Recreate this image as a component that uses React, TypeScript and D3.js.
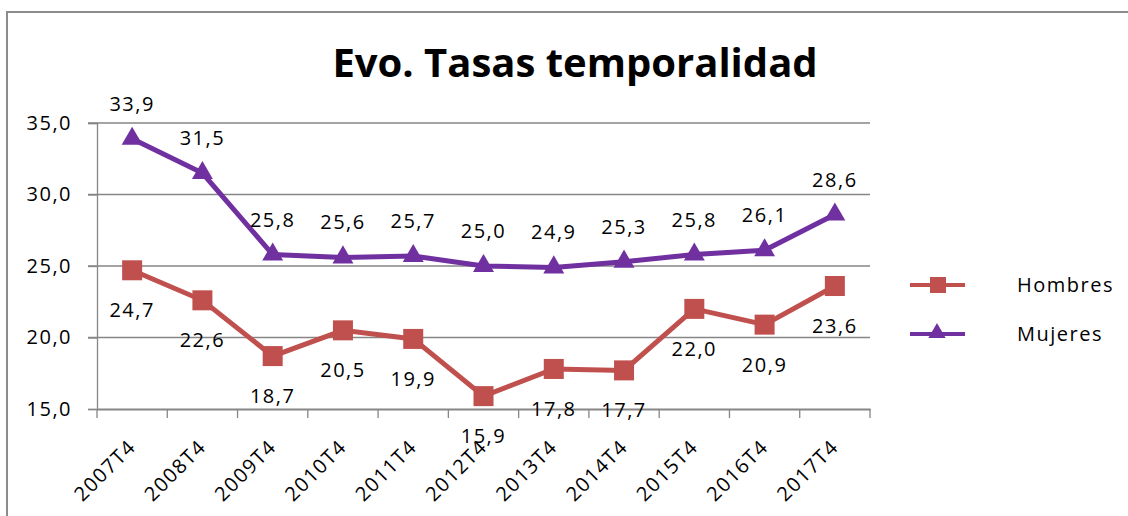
import React, { useEffect, useRef } from 'react';
import * as d3 from 'd3';

const categories = ['2007T4', '2008T4', '2009T4', '2010T4', '2011T4', '2012T4', '2013T4', '2014T4', '2015T4', '2016T4', '2017T4'];
const hombres = [24.7, 22.6, 18.7, 20.5, 19.9, 15.9, 17.8, 17.7, 22.0, 20.9, 23.6];
const mujeres = [33.9, 31.5, 25.8, 25.6, 25.7, 25.0, 24.9, 25.3, 25.8, 26.1, 28.6];
const yTicks = [15, 20, 25, 30, 35];

const RED = '#C0504D';
const PURPLE = '#7030A0';
const FONT = "'Open Sans', 'Noto Sans', sans-serif";

function App() {
  const svgRef = useRef<SVGSVGElement>(null);

  useEffect(() => {
    const width = 1128;
    const height = 516;
    const margin = { top: 123, left: 97, right: 258, bottom: 107 };

    const svg = d3.select(svgRef.current).attr('width', width).attr('height', height);
    svg.selectAll('*').remove();

    // outer frame (cut by window on right/bottom)
    svg.append('rect')
      .attr('x', 7).attr('y', 12)
      .attr('width', width + 20).attr('height', height + 20)
      .attr('fill', '#fff').attr('stroke', '#8c8c8c').attr('stroke-width', 2);

    const x = d3.scaleBand<string>()
      .domain(categories)
      .range([margin.left, width - margin.right]);

    const y = d3.scaleLinear()
      .domain([15, 35])
      .range([height - margin.bottom, margin.top]);

    const fmt = (v: number) => d3.format('.1f')(v).replace('.', ',');
    const cx = (c: string) => (x(c) as number) + x.bandwidth() / 2;

    // gridlines
    svg.append('g')
      .selectAll('line')
      .data(yTicks.filter(t => t !== 15))
      .join('line')
      .attr('x1', margin.left - 9).attr('x2', width - margin.right)
      .attr('y1', d => y(d)).attr('y2', d => y(d))
      .attr('stroke', '#868686').attr('stroke-width', 1.3);

    // y axis
    const yAxis = svg.append('g')
      .attr('transform', `translate(${margin.left},0)`)
      .call(d3.axisLeft(y).tickValues(yTicks).tickSize(9).tickFormat(d => fmt(+d)));
    yAxis.select('.domain').attr('stroke', '#868686').attr('stroke-width', 1.3);
    yAxis.selectAll('.tick line').attr('stroke', '#868686').attr('stroke-width', 1.3);
    yAxis.selectAll('.tick text')
      .attr('x', -25)
      .attr('font-family', FONT).attr('font-size', 20).attr('letter-spacing', 1.5)
      .attr('fill', '#000');

    // x axis
    const xAxis = svg.append('g')
      .attr('transform', `translate(0,${y(15)})`)
      .call(d3.axisBottom(x).tickSize(0));
    xAxis.select('.domain').attr('stroke', '#868686').attr('stroke-width', 2);
    xAxis.selectAll('.tick text')
      .attr('font-family', FONT).attr('font-size', 20).attr('letter-spacing', 1.5)
      .attr('fill', '#000')
      .attr('text-anchor', 'end')
      .attr('dy', 0).attr('y', 0)
      .attr('transform', 'translate(5,39) rotate(-45)');

    // category boundary ticks
    const bounds = [...categories.map(c => x(c) as number), width - margin.right];
    svg.append('g')
      .selectAll('line')
      .data(bounds)
      .join('line')
      .attr('x1', d => d).attr('x2', d => d)
      .attr('y1', y(15)).attr('y2', y(15) + 9)
      .attr('stroke', '#868686').attr('stroke-width', 1.3);

    const line = d3.line<number>()
      .x((_, i) => cx(categories[i]))
      .y(d => y(d));

    // Hombres
    svg.append('path')
      .datum(hombres)
      .attr('d', line)
      .attr('fill', 'none').attr('stroke', RED).attr('stroke-width', 5);
    svg.append('g')
      .selectAll('rect')
      .data(hombres)
      .join('rect')
      .attr('x', (_, i) => cx(categories[i]) - 10)
      .attr('y', d => y(d) - 10)
      .attr('width', 20).attr('height', 20)
      .attr('fill', RED);

    // Mujeres
    svg.append('path')
      .datum(mujeres)
      .attr('d', line)
      .attr('fill', 'none').attr('stroke', PURPLE).attr('stroke-width', 5);
    const tri = d3.symbol().type(d3.symbolTriangle).size(190);
    svg.append('g')
      .selectAll('path')
      .data(mujeres)
      .join('path')
      .attr('d', tri)
      .attr('transform', (d, i) => `translate(${cx(categories[i])},${y(d)})`)
      .attr('fill', PURPLE);

    // data labels
    svg.append('g')
      .selectAll('text')
      .data(mujeres)
      .join('text')
      .attr('x', (_, i) => cx(categories[i]))
      .attr('y', d => y(d) - 28)
      .attr('text-anchor', 'middle')
      .attr('font-family', FONT).attr('font-size', 20).attr('letter-spacing', 1.5)
      .text(d => fmt(d));
    svg.append('g')
      .selectAll('text')
      .data(hombres)
      .join('text')
      .attr('x', (_, i) => cx(categories[i]))
      .attr('y', d => y(d) + 47)
      .attr('text-anchor', 'middle')
      .attr('font-family', FONT).attr('font-size', 20).attr('letter-spacing', 1.5)
      .text(d => fmt(d));

    // title
    svg.append('text')
      .attr('x', 575).attr('y', 77)
      .attr('text-anchor', 'middle')
      .attr('font-family', FONT).attr('font-size', 40).attr('font-weight', 700)
      .text('Evo. Tasas temporalidad');

    // legend
    const legend = [
      { name: 'Hombres', color: RED, shape: 'square', y: 285 },
      { name: 'Mujeres', color: PURPLE, shape: 'triangle', y: 334 },
    ];
    const lg = svg.append('g');
    legend.forEach(l => {
      lg.append('line')
        .attr('x1', 910).attr('x2', 965)
        .attr('y1', l.y).attr('y2', l.y)
        .attr('stroke', l.color).attr('stroke-width', 4);
      if (l.shape === 'square') {
        lg.append('rect')
          .attr('x', 930).attr('y', l.y - 8)
          .attr('width', 16).attr('height', 16)
          .attr('fill', l.color);
      } else {
        lg.append('path')
          .attr('d', d3.symbol().type(d3.symbolTriangle).size(130)())
          .attr('transform', `translate(937,${l.y - 1})`)
          .attr('fill', l.color);
      }
      lg.append('text')
        .attr('x', 1017).attr('y', l.y + 7)
        .attr('font-family', FONT).attr('font-size', 20).attr('letter-spacing', 1.5)
        .text(l.name);
    });
  }, []);

  return (
    <svg ref={svgRef} style={{ position: 'absolute', left: 0, top: 0, display: 'block' }}></svg>
  );
}

export default App;
